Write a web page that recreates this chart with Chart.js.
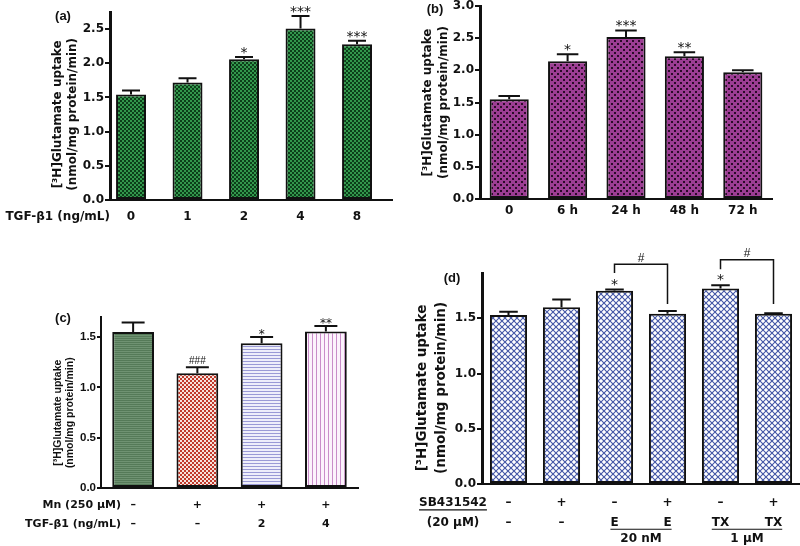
<!DOCTYPE html>
<html><head><meta charset="utf-8">
<script src="https://cdn.jsdelivr.net/npm/chart.js@4.4.1/dist/chart.umd.min.js"></script>
<style>
html,body{margin:0;padding:0;background:#fff;width:800px;height:546px;overflow:hidden;position:relative}
canvas{position:absolute}
.lab{position:absolute;font:bold 13px "Liberation Sans";color:#111;transform:translate(-50%,-50%);white-space:nowrap}
</style></head><body>
<canvas id="ca" width="400" height="272" style="left:0;top:0"></canvas>
<canvas id="cb" width="400" height="250" style="left:400px;top:0"></canvas>
<canvas id="cc" width="400" height="266" style="left:0;top:280px"></canvas>
<canvas id="cd" width="400" height="306" style="left:400px;top:240px"></canvas>
<div class="lab" style="left:63px;top:15px">(a)</div>
<div class="lab" style="left:435px;top:8px">(b)</div>
<div class="lab" style="left:63px;top:317px">(c)</div>
<div class="lab" style="left:452px;top:277px">(d)</div>
<script>
// ---------- data ----------
// Panel (a): TGF-β1 dose
const catsA = ['0', '1', '2', '4', '8'];
const meanA = [1.545, 1.72, 2.06, 2.51, 2.28];
const semA  = [0.055, 0.06, 0.03, 0.18, 0.05];
const sigA  = ['', '', '*', '***', '***'];
// Panel (b): time course
const catsB = ['0', '6 h', '24 h', '48 h', '72 h'];
const meanB = [1.55, 2.14, 2.52, 2.22, 1.97];
const semB  = [0.05, 0.11, 0.10, 0.06, 0.03];
const sigB  = ['', '*', '***', '**', ''];
// Panel (c): Mn + TGF-β1
const mnRowC  = ['–', '+', '+', '+'];
const tgfRowC = ['–', '–', '2', '4'];
const meanC = [1.55, 1.14, 1.44, 1.555];
const semC  = [0.095, 0.06, 0.06, 0.055];
const sigC  = ['', '###', '*', '**'];
// Panel (d): SB431542
const sbRowD   = ['–', '+', '–', '+', '–', '+'];
const drugRowD = ['–', '–', 'E', 'E', 'TX', 'TX'];
const meanD = [1.53, 1.60, 1.75, 1.54, 1.77, 1.54];
const semD  = [0.03, 0.07, 0.01, 0.025, 0.03, 0.005];
const sigD  = ['', '', '*', '', '*', ''];
const groupsD = [{from: 2, to: 3, label: '20 nM'}, {from: 4, to: 5, label: '1 μM'}];
const bracketsD = [
  {from: 2, to: 3, top: 1.99, left: 1.91, right: 1.63, label: '#'},
  {from: 4, to: 5, top: 2.03, left: 1.945, right: 1.63, label: '#'}
];
const yTitle = ['[³H]Glutamate uptake', '(nmol/mg protein/min)'];

// ---------- helpers ----------
const DV = '"DejaVu Sans"', LS = '"Liberation Sans"', INK = '#111';
// trailing spaces nudge the rotated title toward the tick range centre
const titleWith = n => yTitle.map(t => t + ' '.repeat(n));
function pat(w, h, draw) {
  const c = document.createElement('canvas'); c.width = w; c.height = h;
  const g = c.getContext('2d'); draw(g);
  return g.createPattern(c, 'repeat');
}
const patA = pat(4, 4, g => { g.fillStyle = '#33974c'; g.fillRect(0,0,4,4); g.fillStyle = '#0c3f1a'; g.fillRect(0,0,2,2); g.fillRect(2,2,2,2); });
const patB = pat(6, 6, g => { g.fillStyle = '#9c3d93'; g.fillRect(0,0,6,6); g.fillStyle = '#2b0a28'; g.fillRect(1,1,2,2); g.fillRect(4,4,2,2); });
const patC0 = pat(4, 2, g => { g.fillStyle = '#557a58'; g.fillRect(0,0,4,2); g.fillStyle = '#6f9272'; g.fillRect(0,1,4,1); });
const patC1 = pat(4, 4, g => { g.fillStyle = '#c0392b'; g.fillRect(0,0,4,4); g.fillStyle = '#f6e2dc'; g.fillRect(0,0,2,2); g.fillRect(2,2,2,2); });
const patC2 = pat(4, 3, g => { g.fillStyle = '#eeeefa'; g.fillRect(0,0,4,3); g.fillStyle = '#9a9ad6'; g.fillRect(0,0,4,1); });
const patC3 = pat(4, 4, g => { g.fillStyle = '#fcf2fc'; g.fillRect(0,0,4,4); g.fillStyle = '#c98cc9'; g.fillRect(0,0,1,4); });
const patD = pat(6, 6, g => {
  g.fillStyle = '#4456a6'; g.fillRect(0,0,6,6); g.fillStyle = '#ffffff';
  const dia = (cx, cy) => { g.beginPath(); g.moveTo(cx, cy-2.2); g.lineTo(cx+2.2, cy); g.lineTo(cx, cy+2.2); g.lineTo(cx-2.2, cy); g.closePath(); g.fill(); };
  dia(3,3); dia(0,0); dia(6,0); dia(0,6); dia(6,6);
});

const marks = {
  id: 'marks',
  afterDatasetsDraw(chart, _a, o) {
    const ctx = chart.ctx, ys = chart.scales.y, meta = chart.getDatasetMeta(0);
    ctx.save();
    ctx.strokeStyle = INK; ctx.fillStyle = INK; ctx.lineWidth = o.errW;
    meta.data.forEach((bar, i) => {
      const m = o.mean[i], e = o.sem[i];
      const y0 = ys.getPixelForValue(m), y1 = ys.getPixelForValue(m + e);
      const half = bar.width * o.cap / 2;
      ctx.beginPath();
      ctx.moveTo(bar.x, y0); ctx.lineTo(bar.x, y1);
      ctx.moveTo(bar.x - half, y1); ctx.lineTo(bar.x + half, y1);
      ctx.stroke();
      const s = o.sig[i];
      if (s) {
        const hash = s.includes('#');
        ctx.font = hash ? o.hashFont : o.starFont;
        ctx.textAlign = 'center'; ctx.textBaseline = 'alphabetic';
        ctx.fillText(s, bar.x, y1 - (hash ? o.hashGap : o.starGap));
      }
    });
    ctx.restore();
  },
  afterDraw(chart, _a, o) {
    const ctx = chart.ctx, xs = chart.scales.x, ys = chart.scales.y, meta = chart.getDatasetMeta(0);
    ctx.save(); ctx.fillStyle = INK; ctx.strokeStyle = INK; ctx.textBaseline = 'middle';
    const rowY = k => xs.top + o.rowPad + o.rowLH * (k + 0.5);
    (o.rows || []).forEach((r, k) => {
      ctx.font = o.rowFont; ctx.textAlign = r.align || 'right';
      const y = rowY(k);
      ctx.fillText(r.text, r.x, y);
      if (r.underline) {
        const w = ctx.measureText(r.text).width;
        const x0 = r.align === 'center' ? r.x - w / 2 : r.x - w;
        ctx.lineWidth = 1.2; ctx.beginPath(); ctx.moveTo(x0, y + 6.5); ctx.lineTo(x0 + w, y + 6.5); ctx.stroke();
      }
    });
    (o.groups || []).forEach(gp => {
      ctx.font = o.rowFont;
      const l1 = o.groupRowLabels[gp.from], l2 = o.groupRowLabels[gp.to];
      const xa = meta.data[gp.from].x - ctx.measureText(l1).width / 2;
      const xb = meta.data[gp.to].x + ctx.measureText(l2).width / 2;
      const y = rowY(1) + 6.5;
      ctx.lineWidth = 1.2; ctx.beginPath(); ctx.moveTo(xa, y); ctx.lineTo(xb, y); ctx.stroke();
      ctx.textAlign = 'center';
      ctx.fillText(gp.label, (xa + xb) / 2, rowY(1) + 16);
    });
    (o.brackets || []).forEach(b => {
      const x1 = meta.data[b.from].x, x2 = meta.data[b.to].x;
      const yt = ys.getPixelForValue(b.top);
      ctx.lineWidth = 1.5; ctx.strokeStyle = INK;
      ctx.beginPath();
      ctx.moveTo(x1, ys.getPixelForValue(b.left)); ctx.lineTo(x1, yt); ctx.lineTo(x2, yt); ctx.lineTo(x2, ys.getPixelForValue(b.right));
      ctx.stroke();
      ctx.font = o.hashFont; ctx.textAlign = 'center'; ctx.textBaseline = 'alphabetic';
      ctx.fillText(b.label, (x1 + x2) / 2, yt - 2.5);
      ctx.textBaseline = 'middle';
    });
    ctx.restore();
  }
};

function yScale(max, width, tickFont, titleText, titleFont, titlePad, borderW, tickLen) {
  return {
    min: 0, max: max,
    grid: {display: true, drawOnChartArea: false, drawTicks: true, tickLength: tickLen, color: INK, lineWidth: 2},
    border: {display: true, color: INK, width: borderW},
    ticks: {stepSize: 0.5, includeBounds: false, padding: 1, color: INK, font: tickFont, callback: v => Number(v).toFixed(1)},
    title: {display: true, text: titleText, color: INK, font: titleFont, padding: {top: titlePad, bottom: 0}},
    afterFit: s => { s.width = width; s.paddingTop = 0; s.paddingBottom = 0; }
  };
}
function xCat(height, font, pad) {
  return {
    type: 'category',
    grid: {display: false, drawTicks: false},
    border: {display: true, color: INK, width: 2},
    ticks: {autoSkip: false, maxRotation: 0, padding: pad, color: INK, font: font},
    afterFit: s => { s.height = height; s.paddingLeft = 0; s.paddingRight = 0; }
  };
}
const base = (padding, scales, marksOpt) => ({
  responsive: false, animation: false, devicePixelRatio: 1, events: [],
  layout: {padding: padding},
  scales: scales,
  plugins: {legend: {display: false}, tooltip: {enabled: false}, marks: marksOpt}
});

// ---------- (a) ----------
new Chart(document.getElementById('ca'), {
  type: 'bar',
  data: {datasets: [{data: meanA.map((m, i) => ({x: i, y: m})), backgroundColor: patA, borderColor: INK, borderWidth: 2, borderSkipped: false, barPercentage: 0.53, categoryPercentage: 1}]},
  options: base({top: 12, right: 8, left: 0, bottom: 0}, {
    x: {
      type: 'linear', min: -0.372, max: 4.619, offset: false,
      grid: {display: false, drawTicks: false, offset: false},
      border: {display: true, color: INK, width: 2},
      afterBuildTicks: s => { s.ticks = catsA.map((_, i) => ({value: i})); },
      ticks: {autoSkip: false, maxRotation: 0, padding: 10, color: INK, font: {family: DV, weight: 'bold', size: 12}, callback: v => catsA[v]},
      afterFit: s => { s.height = 72; s.paddingLeft = 0; s.paddingRight = 0; }
    },
    y: yScale(2.75, 110, {family: DV, weight: 'bold', size: 12}, titleWith(4), {family: DV, weight: 'bold', size: 12, lineHeight: 1.2}, 51, 3, 5)
  }, {mean: meanA, sem: semA, sig: sigA, errW: 2, cap: 0.6, starFont: '14px ' + DV, starGap: 0, hashFont: '10px ' + LS, hashGap: 3,
      rows: [{text: 'TGF-β1 (ng/mL)', x: 110}], rowFont: 'bold 12px ' + DV, rowPad: 10, rowLH: 14.4}),
  plugins: [marks]
});

// ---------- (b) ----------
new Chart(document.getElementById('cb'), {
  type: 'bar',
  data: {labels: catsB, datasets: [{data: meanB, backgroundColor: patB, borderColor: INK, borderWidth: 2, borderSkipped: false, barPercentage: 0.67, categoryPercentage: 1}]},
  options: base({top: 6, right: 28, left: 0, bottom: 0}, {
    x: xCat(51, {family: DV, weight: 'bold', size: 12}, 5),
    y: yScale(3.0, 80, {family: DV, weight: 'bold', size: 12}, yTitle, {family: DV, weight: 'bold', size: 12, lineHeight: 1.35}, 20, 3, 5)
  }, {mean: meanB, sem: semB, sig: sigB, errW: 2, cap: 0.55, starFont: '14px ' + DV, starGap: 0, hashFont: '10px ' + LS, hashGap: 3}),
  plugins: [marks]
});

// ---------- (c) ----------
new Chart(document.getElementById('cc'), {
  type: 'bar',
  data: {labels: mnRowC.map((m, i) => [m, tgfRowC[i]]), datasets: [{data: meanC, backgroundColor: [patC0, patC1, patC2, patC3], borderColor: INK, borderWidth: 2, borderSkipped: false, barPercentage: 0.65, categoryPercentage: 1}]},
  options: base({top: 37, right: 42, left: 0, bottom: 0}, {
    x: xCat(58, {family: DV, weight: 'bold', size: 11, lineHeight: 1.75}, 7.75),
    y: yScale(1.70, 101, {family: LS, weight: 'bold', size: 11.5}, titleWith(7), {family: LS, weight: 'bold', size: 10.5, lineHeight: 1.15}, 52, 2, 4)
  }, {mean: meanC, sem: semC, sig: sigC, errW: 2, cap: 0.55, starFont: '12px ' + DV, starGap: -1, hashFont: '10px ' + LS, hashGap: 3,
      rows: [{text: 'Mn (250 μM)', x: 121}, {text: 'TGF-β1 (ng/mL)', x: 121}], rowFont: 'bold 11px ' + DV, rowPad: 7.75, rowLH: 19.25}),
  plugins: [marks]
});

// ---------- (d) ----------
new Chart(document.getElementById('cd'), {
  type: 'bar',
  data: {labels: sbRowD.map((s, i) => [s, drugRowD[i]]), datasets: [{data: meanD, backgroundColor: patD, borderColor: INK, borderWidth: 2, borderSkipped: false, barPercentage: 0.70, categoryPercentage: 1}]},
  options: base({top: 33, right: 0, left: 0, bottom: 0}, {
    x: xCat(62, {family: DV, weight: 'bold', size: 12, lineHeight: 1.62}, 9.6),
    y: yScale(1.91, 82, {family: DV, weight: 'bold', size: 12}, titleWith(4), {family: DV, weight: 'bold', size: 13.5, lineHeight: 1.4}, 13, 3, 5)
  }, {mean: meanD, sem: semD, sig: sigD, errW: 2, cap: 0.5, starFont: '14px ' + DV, starGap: 1, hashFont: '12px ' + LS, hashGap: 3,
      rows: [{text: 'SB431542', x: 53, align: 'center', underline: true}, {text: '(20 μM)', x: 53, align: 'center'}],
      rowFont: 'bold 12px ' + DV, rowPad: 9.6, rowLH: 19.44,
      groups: groupsD, groupRowLabels: drugRowD, brackets: bracketsD}),
  plugins: [marks]
});
</script>
</body></html>
